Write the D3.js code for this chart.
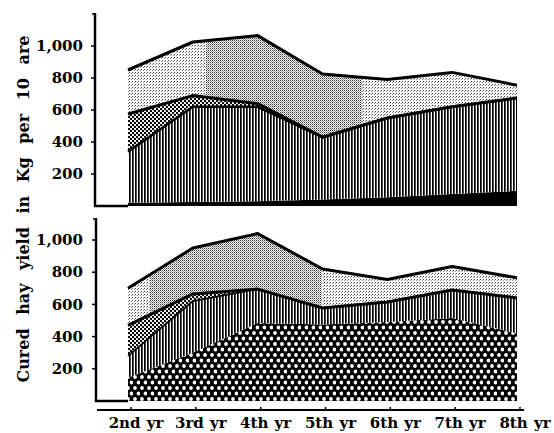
<!DOCTYPE html>
<html><head><meta charset="utf-8">
<script src="https://cdn.jsdelivr.net/npm/d3@7"></script>
<style>
html,body{margin:0;padding:0;background:#fff;}
svg{display:block;}
text{font-family:"DejaVu Serif",serif;fill:#000;}
</style></head>
<body><svg id="chart" width="554" height="433"></svg>
<script>
// ---- data ----
const years = ["2nd yr","3rd yr","4th yr","5th yr","6th yr","7th yr","8th yr"];
const yTicks = [200,400,600,800,1000];
const axisTitle = "Cured hay yield in Kg per 10 are";

// upper panel layers (kg per 10 are), bottom to top
const upperBlack   = [20, 25, 30, 40, 55, 75, 95];
const upperStripes = [320, 595, 590, 390, 495, 545, 580];
const upperDotted  = [235, 70, 20, 0, 0, 0, 0];
const upperStipple = [275, 335, 425, 395, 240, 215, 80];

// lower panel layers
const lowerDark    = [145, 300, 485, 475, 490, 515, 420];
const lowerStripes = [135, 320, 210, 103, 125, 175, 220];
const lowerDotted  = [190, 45, 0, 0, 0, 0, 0];
const lowerStipple = [230, 285, 345, 242, 140, 145, 125];

const keys = ["base","stripes","dotted","stipple"];
function table(a,b,c,d){ return years.map((yr,i)=>({year:yr, base:a[i], stripes:b[i], dotted:c[i], stipple:d[i]})); }

const svg = d3.select("#chart");
const defs = svg.append("defs");

// patterns
function pat(id,w,h){ return defs.append("pattern").attr("id",id).attr("patternUnits","userSpaceOnUse").attr("width",w).attr("height",h); }
let p = pat("stripes",3,4);
p.append("rect").attr("width",3).attr("height",4).attr("fill","#fff");
p.append("rect").attr("x",0).attr("width",1.7).attr("height",4).attr("fill","#000");

p = pat("dotted",4,4);
p.append("rect").attr("width",4).attr("height",4).attr("fill","#fff");
p.append("circle").attr("cx",1).attr("cy",1).attr("r",1.2).attr("fill","#000");
p.append("circle").attr("cx",3).attr("cy",3).attr("r",1.2).attr("fill","#000");

p = pat("darkdots",7,11);
p.append("rect").attr("width",7).attr("height",11).attr("fill","#000");
p.append("circle").attr("cx",2).attr("cy",3).attr("r",1.9).attr("fill","#fff");
p.append("circle").attr("cx",5.5).attr("cy",8.5).attr("r",1.9).attr("fill","#fff");

p = pat("stippleLight",3,3);
p.append("rect").attr("width",3).attr("height",3).attr("fill","#fff");
p.append("rect").attr("x",0).attr("y",0).attr("width",1).attr("height",1).attr("fill","#444");
p.append("rect").attr("x",2).attr("y",1).attr("width",1).attr("height",1).attr("fill","#888");

p = pat("stippleDark",2,2);
p.append("rect").attr("width",2).attr("height",2).attr("fill","#fff");
p.append("rect").attr("x",0).attr("y",0).attr("width",1).attr("height",1).attr("fill","#333");
p.append("rect").attr("x",1).attr("y",1).attr("width",1).attr("height",1).attr("fill","#999");

const x = d3.scalePoint(years,[128,517]);
const xLabel = d3.scalePoint(years,[136,525]);

function panel(rows, y, baseFill, darkRange, clipId, midStroke){
  const series = d3.stack().keys(keys)(rows);
  const area = d3.area().x(d=>x(d.data.year)).y0(d=>y(d[0])).y1(d=>y(d[1]));
  const fills = {base:baseFill, stripes:"url(#stripes)", dotted:"url(#dotted)", stipple:"url(#stippleLight)"};
  const g = svg.append("g");
  g.selectAll("path.layer").data(series).join("path").attr("class","layer")
    .attr("d",area).attr("fill",s=>fills[s.key]);
  // darker screen in part of the top layer
  defs.append("clipPath").attr("id",clipId).append("rect")
    .attr("x",darkRange[0]).attr("y",0).attr("width",darkRange[1]-darkRange[0]).attr("height",433);
  g.append("path").datum(series[3]).attr("d",area).attr("fill","url(#stippleDark)").attr("clip-path",`url(#${clipId})`);
  const line = d3.line().x(d=>x(d.data.year)).y(d=>y(d[1]));
  g.append("path").datum(series[1]).attr("d",line).attr("fill","none").attr("stroke","#000").attr("stroke-width",midStroke);
  g.append("path").datum(series[2]).attr("d",line).attr("fill","none").attr("stroke","#000").attr("stroke-width",3).attr("stroke-linejoin","round");
  g.append("path").datum(series[3]).attr("d",line).attr("fill","none").attr("stroke","#000").attr("stroke-width",3).attr("stroke-linejoin","round");
  return g;
}

// upper panel
const yU = d3.scaleLinear([0,1000],[206,46]);
panel(table(upperBlack,upperStripes,upperDotted,upperStipple), yU, "#000", [206,362], "clipU", 2.6);
// lower panel
const yL = d3.scaleLinear([0,1000],[401,240]);
panel(table(lowerDark,lowerStripes,lowerDotted,lowerStipple), yL, "url(#darkdots)", [150,322], "clipL", 1.8);

// y axes
function yAxis(y, x0, top){
  const g = svg.append("g");
  g.append("line").attr("x1",x0).attr("x2",x0).attr("y1",top).attr("y2",y(0)+1).attr("stroke","#000").attr("stroke-width",2.5);
  g.append("line").attr("x1",x0-1).attr("x2",x(years[0])).attr("y1",y(0)).attr("y2",y(0)).attr("stroke","#000").attr("stroke-width",2.5);
  g.append("line").attr("x1",x0-3).attr("x2",x0).attr("y1",top+1).attr("y2",top+1).attr("stroke","#000").attr("stroke-width",1.5);
  g.selectAll("line.t").data(yTicks).join("line").attr("class","t")
    .attr("x1",x0-4).attr("x2",x0).attr("y1",d=>y(d)).attr("y2",d=>y(d)).attr("stroke","#000").attr("stroke-width",1.5);
  g.selectAll("text").data(yTicks).join("text")
    .attr("x",83).attr("y",d=>y(d)).attr("dy","0.35em").attr("text-anchor","end")
    .style("font-size","15px").style("font-weight","bold")
    .text(d=>d3.format(",")(d));
}
yAxis(yU, 95, 13);
yAxis(yL, 96, 218);

// x axis (bottom)
const xa = svg.append("g");
xa.append("line").attr("x1",97).attr("x2",524).attr("y1",410).attr("y2",410).attr("stroke","#000").attr("stroke-width",2);
xa.selectAll("line.t").data(years).join("line").attr("class","t")
  .attr("x1",d=>x(d)+3).attr("x2",d=>x(d)+3).attr("y1",410).attr("y2",407).attr("stroke","#000").attr("stroke-width",1.5);
xa.selectAll("text").data(years).join("text")
  .attr("x",d=>xLabel(d)).attr("y",428).attr("text-anchor","middle")
  .style("font-size","15px").style("font-weight","bold").style("word-spacing","1px")
  .text(d=>d);

// axis title
svg.append("text").attr("transform","translate(29,209) rotate(-90)")
  .attr("text-anchor","middle").style("font-size","16px").style("font-weight","bold").style("word-spacing","8px")
  .text(axisTitle);
</script></body></html>
